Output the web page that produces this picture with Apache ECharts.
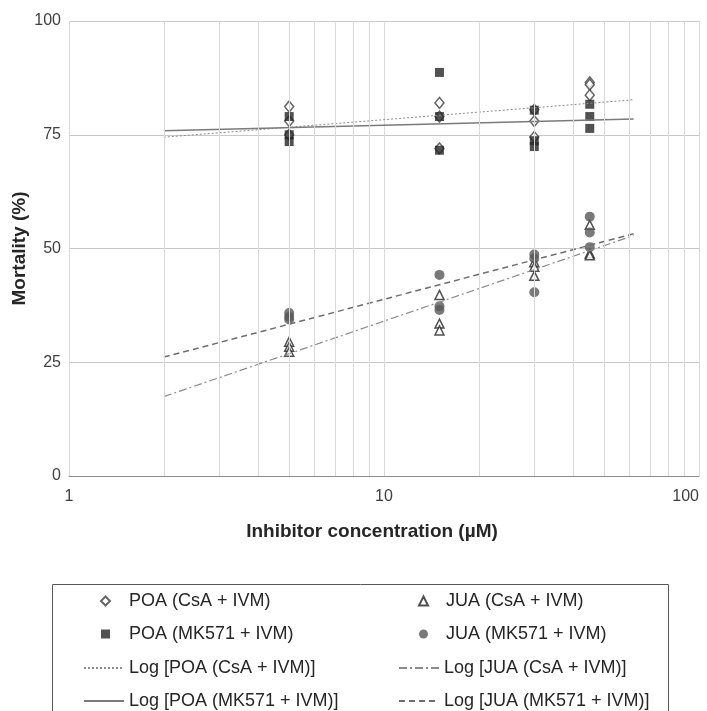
<!DOCTYPE html>
<html>
<head>
<meta charset="utf-8" />
<script src="https://cdn.jsdelivr.net/npm/echarts@6/dist/echarts.min.js"></script>
</head>
<body style="margin:0">
<div id="chartDom" style="width:707px;height:711px;"></div>
<script type="text/javascript">
// concentrations (uM) and three replicates per concentration
var concentrations = [5, 15, 30, 45];
var poaCsA = [[81.2, 78, 75], [82, 79, 72], [80.5, 78, 74.5], [86.5, 86, 83.7]];
var poaMK  = [[79, 75, 73.5], [88.7, 79, 71.6], [80.4, 73.7, 72.4], [81.7, 79, 76.4]];
var juaCsA = [[29.5, 28.4, 27.3], [39.8, 33.5, 32], [47, 46, 44], [55.2, 48.9, 48.5]];
var juaMK  = [[35.8, 35, 34.4], [44.2, 37.3, 36.5], [48.7, 47.8, 40.4], [57, 53.5, 50.3]];
var trendRange = [2, 62];
var minorX = [2, 3, 4, 5, 6, 7, 8, 9, 20, 30, 40, 50, 60, 70, 80, 90];
var names = ['POA (CsA + IVM)', 'POA (MK571 + IVM)', 'JUA (CsA + IVM)', 'JUA (MK571 + IVM)'];
var trendNames = names.map(function (n) { return 'Log [' + n + ']'; });

var font = 'Liberation Sans, Arial, sans-serif';

function points(vals) {
    var out = [];
    concentrations.forEach(function (c, i) {
        vals[i].forEach(function (v) { out.push([c, v]); });
    });
    return out;
}

// least squares y = a*ln(x) + b, like the spreadsheet trendline
function logFit(vals) {
    var pts = points(vals), n = pts.length, sx = 0, sy = 0, sxx = 0, sxy = 0;
    pts.forEach(function (p) {
        var lx = Math.log(p[0]);
        sx += lx; sy += p[1]; sxx += lx * lx; sxy += lx * p[1];
    });
    var a = (n * sxy - sx * sy) / (n * sxx - sx * sx);
    var b = (sy - a * sx) / n;
    return trendRange.map(function (x) { return [x, a * Math.log(x) + b]; });
}

var myChart = echarts.init(document.getElementById('chartDom'));

function markerLegend(left, pad, data) {
    return {
        left: left, top: 592, height: 80, orient: 'vertical', padding: 0,
        itemWidth: 9, itemHeight: 9, itemGap: 15,
        textStyle: { fontFamily: font, fontSize: 18, color: '#262626', padding: [0, 0, 0, pad] },
        data: data
    };
}
function lineLegend(left, data) {
    return {
        left: left, top: 659, height: 80, orient: 'vertical', padding: 0,
        itemWidth: 40, itemHeight: 9, itemGap: 15,
        itemStyle: { color: 'transparent', borderWidth: 0, opacity: 0 },
        textStyle: { fontFamily: font, fontSize: 18, color: '#262626' },
        data: data
    };
}

var option = {
    backgroundColor: '#fff',
    animation: false,
    grid: { left: 69, top: 21, right: 8, bottom: 235, outerBoundsMode: 'none', containLabel: false },
    xAxis: {
        type: 'log', logBase: 10, min: 1, max: 100,
        name: 'Inhibitor concentration (\u00b5M)',
        nameLocation: 'middle', nameGap: 46, nameMoveOverlap: false,
        nameTextStyle: { fontFamily: font, fontSize: 19, fontWeight: 'bold', color: '#262626', padding: [0, 24, 0, 0] },
        axisLine: { show: true, lineStyle: { color: '#8c8c8c', width: 1 } },
        axisTick: { show: false },
        axisLabel: { fontFamily: font, fontSize: 16, color: '#404040', margin: 13, alignMaxLabel: 'right' },
        splitLine: { show: true, lineStyle: { color: '#d9d9d9', width: 1 } }
    },
    yAxis: {
        type: 'value', min: 0, max: 100, interval: 25,
        name: 'Mortality (%)',
        nameLocation: 'middle', nameGap: 40, nameMoveOverlap: false,
        nameTextStyle: { fontFamily: font, fontSize: 19, fontWeight: 'bold', color: '#262626' },
        axisLine: { show: false },
        axisTick: { show: false },
        axisLabel: { fontFamily: font, fontSize: 16, color: '#404040', margin: 8 },
        splitLine: { show: true, lineStyle: { color: '#c8c8c8', width: 1 } }
    },
    legend: [
        markerLegend(100, 14, [names[0], names[1]]),
        markerLegend(418, 13, [names[2], names[3]]),
        lineLegend(83, [trendNames[0], trendNames[1]]),
        lineLegend(398, [trendNames[2], trendNames[3]])
    ],
    graphic: [{
        type: 'rect', left: 50, top: 582, shape: { width: 616, height: 160 },
        style: { fill: 'none', stroke: '#595959', lineWidth: 1 }, silent: true
    }],
    series: [
        {
            type: 'line', name: 'minor', data: [], silent: true, z: 1,
            markLine: {
                silent: true, symbol: 'none', label: { show: false },
                lineStyle: { color: '#d9d9d9', width: 1, type: 'solid' },
                data: minorX.map(function (v) { return { xAxis: v }; })
            }
        },
        {
            type: 'scatter', name: names[0], data: points(poaCsA), symbol: 'diamond', symbolSize: [9, 11],
            itemStyle: { color: '#fff', borderColor: '#404040', borderWidth: 1.5 }
        },
        {
            type: 'scatter', name: names[1], data: points(poaMK), symbol: 'rect', symbolSize: 9,
            itemStyle: { color: '#262626' }
        },
        {
            type: 'scatter', name: names[2], data: points(juaCsA), symbol: 'triangle', symbolSize: 9,
            itemStyle: { color: '#fff', borderColor: '#262626', borderWidth: 1.5 }
        },
        {
            type: 'scatter', name: names[3], data: points(juaMK), symbol: 'circle', symbolSize: 10,
            itemStyle: { color: '#595959' }
        },
        {
            type: 'line', name: trendNames[0], data: logFit(poaCsA), symbol: 'none',
            lineStyle: { color: '#8c8c8c', width: 1, type: [2, 2] }
        },
        {
            type: 'line', name: trendNames[1], data: logFit(poaMK), symbol: 'none',
            lineStyle: { color: '#7a7a7a', width: 1.5, type: 'solid' }
        },
        {
            type: 'line', name: trendNames[2], data: logFit(juaCsA), symbol: 'none',
            lineStyle: { color: '#8c8c8c', width: 1.2, type: [8, 3, 2, 3] }
        },
        {
            type: 'line', name: trendNames[3], data: logFit(juaMK), symbol: 'none',
            lineStyle: { color: '#6e6e6e', width: 1.5, type: [6, 4] }
        }
    ]
};

myChart.setOption(option);
window.onresize = myChart.resize;
</script>
</body>
</html>
